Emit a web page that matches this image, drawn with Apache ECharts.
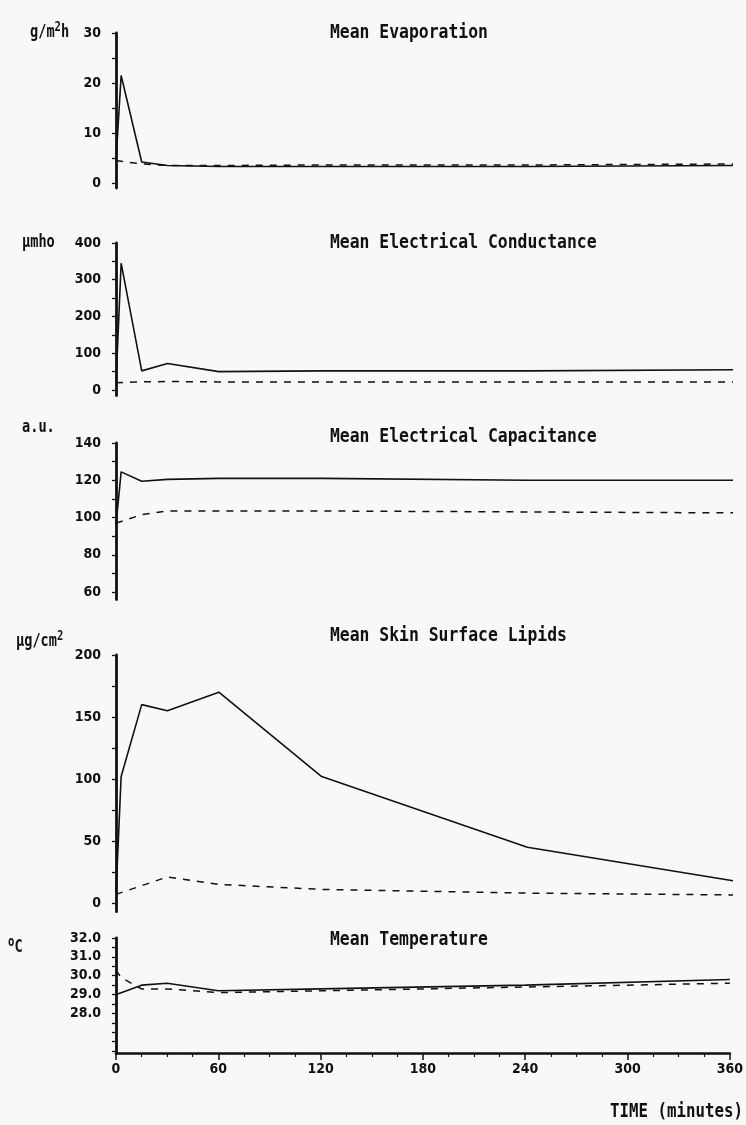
<!DOCTYPE html>
<html>
<head>
<meta charset="utf-8">
<script src="https://cdn.jsdelivr.net/npm/echarts@6/dist/echarts.min.js"></script>
<style>
  html, body { margin: 0; padding: 0; background: #f8f8f6; }
  #chart { width: 746px; height: 1125px; }
</style>
</head>
<body>
<div id="chart"></div>
<script>
// time after application (minutes); control has no 3-min reading
const TIMES = [0, 3, 15, 30, 60, 120, 240, 360];

const EVAP_TREATED = [4.5, 21.5, 4.2, 3.5, 3.3, 3.3, 3.3, 3.5];
const EVAP_CONTROL = [4.5, null, 3.8, 3.5, 3.5, 3.6, 3.6, 3.8];
const COND_TREATED = [20, 345, 52, 72, 50, 52, 52, 55];
const COND_CONTROL = [20, null, 22, 23, 22, 22, 22, 22];
const CAP_TREATED = [96, 124.5, 119.5, 120.5, 121, 121, 120, 120];
const CAP_CONTROL = [97, null, 101.5, 103.5, 103.5, 103.5, 103, 102.5];
const LIP_TREATED = [8, 102, 160, 155, 170, 102, 45, 18];
const LIP_CONTROL = [7, null, 14, 21, 15, 11, 8, 6.5];
const TEMP_TREATED = [29.0, 29.1, 29.5, 29.6, 29.2, 29.3, 29.5, 29.8];
const TEMP_CONTROL = [30.3, 29.9, 29.3, 29.3, 29.1, 29.2, 29.4, 29.6];

const X_TICKS = [0, 60, 120, 180, 240, 300, 360];

const MONO = '"DejaVu Sans Mono", "Liberation Mono", monospace';
const COND = '"DejaVu Sans Condensed", "DejaVu Sans", sans-serif';
const INK = '#111';

// one panel per measurement, stacked top to bottom
const PANELS = [
  { title: 'Mean Evaporation', unit: 'g/m{s|2}h', treated: EVAP_TREATED, control: EVAP_CONTROL,
    min: -1, max: 30, labels: [0, 10, 20, 30], ticks: [0, 5, 10, 15, 20, 25, 30],
    top: 33, height: 155, titleY: 33, unitX: 30, unitY: 33, fmt: v => v },
  { title: 'Mean Electrical Conductance', unit: 'µmho', treated: COND_TREATED, control: COND_CONTROL,
    min: -15, max: 400, labels: [0, 100, 200, 300, 400], ticks: [0, 50, 100, 150, 200, 250, 300, 350, 400],
    top: 243, height: 152.5, titleY: 243, unitX: 22, unitY: 243, fmt: v => v },
  { title: 'Mean Electrical Capacitance', unit: 'a.u.', treated: CAP_TREATED, control: CAP_CONTROL,
    min: 56, max: 140, labels: [60, 80, 100, 120, 140], ticks: [60, 70, 80, 90, 100, 110, 120, 130, 140],
    top: 443, height: 156.5, titleY: 437, unitX: 22, unitY: 428, fmt: v => v },
  { title: 'Mean Skin Surface Lipids', unit: 'µg/cm{s|2}', treated: LIP_TREATED, control: LIP_CONTROL,
    min: -7, max: 200, labels: [0, 50, 100, 150, 200], ticks: [0, 25, 50, 75, 100, 125, 150, 175, 200],
    top: 655, height: 256.7, titleY: 636, unitX: 16, unitY: 642, fmt: v => v },
  { title: 'Mean Temperature', unit: '{s|o}C', treated: TEMP_TREATED, control: TEMP_CONTROL,
    min: 25.9, max: 32, labels: [28, 29, 30, 31, 32],
    ticks: [26, 26.5, 27, 27.5, 28, 28.5, 29, 29.5, 30, 30.5, 31, 31.5, 32],
    top: 938, height: 115, titleY: 940, unitX: 8, unitY: 948, fmt: v => v.toFixed(1) },
];

const chart = echarts.init(document.getElementById('chart'));

const grid = [], xAxis = [], yAxis = [], series = [], graphic = [];

// plotter-style lettering: monospace squeezed sideways
function label(text, x, y, size, squeeze, align) {
  return {
    type: 'text', x, y, scaleX: squeeze, silent: true,
    style: {
      text, fill: INK, fontFamily: MONO, fontWeight: 'bold', fontSize: size,
      align: align || 'left', verticalAlign: 'middle',
      rich: { s: { fontFamily: MONO, fontWeight: 'bold', fontSize: size * 0.78, padding: [0, 0, size * 0.6, 0] } },
    },
  };
}

PANELS.forEach((p, i) => {
  const last = i === PANELS.length - 1;
  grid.push({ left: 116, top: p.top, width: 617, height: p.height });
  xAxis.push({
    gridIndex: i, type: 'value', min: 0, max: 360, interval: 60, show: last,
    axisLine: { onZero: false, lineStyle: { color: INK, width: 2.6 } },
    axisTick: { length: 7, lineStyle: { color: INK, width: 1.5 } },
    minorTick: { show: true, splitNumber: 4, length: 4, lineStyle: { color: INK, width: 1.2 } },
    splitLine: { show: false },
    axisLabel: { customValues: X_TICKS, color: INK, fontFamily: COND, fontWeight: 'bold', fontSize: 14, margin: 9 },
  });
  yAxis.push({
    gridIndex: i, type: 'value', min: p.min, max: p.max,
    axisLine: { show: true, lineStyle: { color: INK, width: 2.8 } },
    axisTick: { show: true, customValues: p.ticks, length: 4, lineStyle: { color: INK, width: 1.3 } },
    axisLabel: { customValues: p.labels, formatter: p.fmt, color: INK, fontFamily: COND,
      fontWeight: 'bold', fontSize: 14, margin: 15 },
    splitLine: { show: false },
  });
  graphic.push(
    label(p.title, 330, p.titleY, 20, 0.82),
    label(p.unit, p.unitX, p.unitY, 17, 0.8)
  );
  series.push(
    { type: 'line', xAxisIndex: i, yAxisIndex: i, showSymbol: false, silent: true,
      data: TIMES.map((t, k) => [t, p.treated[k]]),
      lineStyle: { color: INK, width: 1.6 } },
    { type: 'line', xAxisIndex: i, yAxisIndex: i, showSymbol: false, silent: true, connectNulls: true,
      data: TIMES.map((t, k) => [t, p.control[k]]),
      lineStyle: { color: INK, width: 1.5, type: [7, 7] } }
  );
});

graphic.push(label('TIME (minutes)', 610, 1112, 19, 0.83));

chart.setOption({
  backgroundColor: '#f8f8f6',
  animation: false,
  grid, xAxis, yAxis, series, graphic,
});
</script>
</body>
</html>
